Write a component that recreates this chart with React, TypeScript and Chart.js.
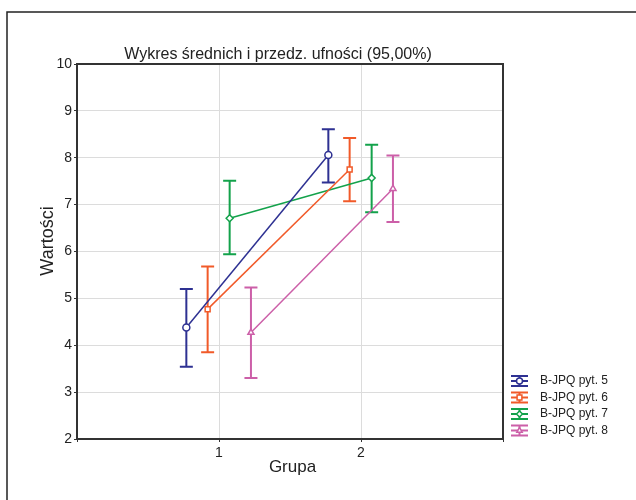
import React, { useEffect, useRef } from "react";
import { Chart, registerables } from "chart.js";

Chart.register(...registerables);

// ---- data ----
const groups = [1, 2];
const seriesNames = ["B-JPQ pyt. 5", "B-JPQ pyt. 6", "B-JPQ pyt. 7", "B-JPQ pyt. 8"];
const seriesOffsets = [-0.23, -0.08, 0.075, 0.225];

const means5 = [4.38, 8.06];
const lower5 = [3.54, 7.47];
const upper5 = [5.2, 8.61];

const means6 = [4.77, 7.75];
const lower6 = [3.85, 7.07];
const upper6 = [5.68, 8.42];

const means7 = [6.71, 7.57];
const lower7 = [5.94, 6.84];
const upper7 = [7.51, 8.28];

const means8 = [4.27, 7.34];
const lower8 = [3.3, 6.63];
const upper8 = [5.23, 8.05];

const yTicksMin = 2;
const yTicksMax = 10;
const xTickLabels = ["1", "2"];

const titleText = "Wykres średnich i przedz. ufności (95,00%)";
const xTitle = "Grupa";
const yTitle = "Wartości";

const seriesColors = ["#2e3192", "#f15a29", "#13a24b", "#cc5fa8"];
const pointStyles = ["circle", "rect", "rectRot", "triangle"];

const FONT = '"Liberation Sans", Arial, Helvetica, sans-serif';

const allMeans = [means5, means6, means7, means8];
const allLower = [lower5, lower6, lower7, lower8];
const allUpper = [upper5, upper6, upper7, upper8];

function drawMarker(ctx: CanvasRenderingContext2D, style: string, x: number, y: number, r: number) {
  ctx.beginPath();
  if (style === "circle") {
    ctx.arc(x, y, r, 0, Math.PI * 2);
  } else if (style === "rect") {
    ctx.rect(x - r * 0.8, y - r * 0.8, r * 1.6, r * 1.6);
  } else if (style === "rectRot") {
    ctx.moveTo(x, y - r);
    ctx.lineTo(x + r, y);
    ctx.lineTo(x, y + r);
    ctx.lineTo(x - r, y);
    ctx.closePath();
  } else {
    ctx.moveTo(x, y - r);
    ctx.lineTo(x + r * 0.9, y + r * 0.6);
    ctx.lineTo(x - r * 0.9, y + r * 0.6);
    ctx.closePath();
  }
  ctx.fillStyle = "#fff";
  ctx.fill();
  ctx.stroke();
}

const decorPlugin = {
  id: "decor",
  beforeDatasetsDraw(chart: any) {
    const ctx: CanvasRenderingContext2D = chart.ctx;
    const xs = chart.scales.x;
    const ys = chart.scales.y;
    const cap = 6.5;
    ctx.save();
    chart.data.datasets.forEach((ds: any) => {
      ctx.strokeStyle = ds.borderColor;
      ctx.lineWidth = 2;
      ds.data.forEach((pt: any, i: number) => {
        const px = xs.getPixelForValue(pt.x);
        const pl = ys.getPixelForValue(ds.errLow[i]);
        const ph = ys.getPixelForValue(ds.errHigh[i]);
        ctx.beginPath();
        ctx.moveTo(px, pl);
        ctx.lineTo(px, ph);
        ctx.moveTo(px - cap, pl);
        ctx.lineTo(px + cap, pl);
        ctx.moveTo(px - cap, ph);
        ctx.lineTo(px + cap, ph);
        ctx.stroke();
      });
    });
    ctx.restore();
  },
  afterDraw(chart: any) {
    const ctx: CanvasRenderingContext2D = chart.ctx;
    const a = chart.chartArea;
    ctx.save();
    // outer frame (top & left)
    ctx.strokeStyle = "#222";
    ctx.lineWidth = 1.5;
    ctx.beginPath();
    ctx.moveTo(7, 500);
    ctx.lineTo(7, 12);
    ctx.lineTo(636, 12);
    ctx.stroke();
    // plot box
    ctx.lineWidth = 2;
    ctx.strokeStyle = "#333";
    ctx.strokeRect(a.left, a.top, a.right - a.left, a.bottom - a.top);

    // titles
    ctx.fillStyle = "#222";
    ctx.font = `16px ${FONT}`;
    ctx.textAlign = "center";
    ctx.textBaseline = "alphabetic";
    ctx.fillText(titleText, 278, 59);
    ctx.font = `17px ${FONT}`;
    ctx.fillText(xTitle, 292.5, 471.5);
    ctx.save();
    ctx.translate(52.5, 241);
    ctx.rotate(-Math.PI / 2);
    ctx.font = `18px ${FONT}`;
    ctx.fillText(yTitle, 0, 0);
    ctx.restore();

    // legend
    const rowY = [381, 397.5, 414, 430.5];
    const ix0 = 511;
    const ix1 = 528;
    const icx = (ix0 + ix1) / 2;
    chart.data.datasets.forEach((ds: any, i: number) => {
      const y = rowY[i];
      ctx.strokeStyle = ds.borderColor;
      ctx.lineWidth = 2;
      ctx.beginPath();
      ctx.moveTo(ix0, y - 5);
      ctx.lineTo(ix1, y - 5);
      ctx.moveTo(ix0, y);
      ctx.lineTo(ix1, y);
      ctx.moveTo(ix0, y + 5);
      ctx.lineTo(ix1, y + 5);
      ctx.moveTo(icx, y - 5);
      ctx.lineTo(icx, y + 5);
      ctx.stroke();
      ctx.lineWidth = 1.5;
      drawMarker(ctx, pointStyles[i], icx, y, 3);
      ctx.fillStyle = "#222";
      ctx.font = `12px ${FONT}`;
      ctx.textAlign = "left";
      ctx.textBaseline = "middle";
      ctx.fillText(seriesNames[i], 540, y);
    });
    ctx.restore();
  },
};

export default function App() {
  const ref = useRef<HTMLCanvasElement | null>(null);

  useEffect(() => {
    if (!ref.current) return;
    const datasets = seriesNames.map((name, s) => ({
      label: name,
      data: groups.map((g, i) => ({ x: g + seriesOffsets[s], y: allMeans[s][i] })),
      errLow: allLower[s],
      errHigh: allUpper[s],
      showLine: true,
      borderColor: seriesColors[s],
      backgroundColor: "#ffffff",
      borderWidth: 1.5,
      pointStyle: pointStyles[s],
      pointRadius: 3.5,
      pointBorderWidth: 1.5,
      pointBackgroundColor: "#ffffff",
      pointBorderColor: seriesColors[s],
    }));

    const chart = new Chart(ref.current, {
      type: "scatter",
      data: { datasets: datasets as any },
      options: {
        animation: false,
        responsive: false,
        devicePixelRatio: 1,
        layout: { padding: { left: 20, top: 64, right: 133, bottom: 20 } },
        plugins: {
          legend: { display: false },
          tooltip: { enabled: false },
          title: { display: false },
        },
        scales: {
          x: {
            type: "linear",
            min: 0,
            max: 3,
            afterFit: (scale: any) => {
              scale.height = 41;
            },
            ticks: {
              stepSize: 1,
              color: "#222",
              font: { family: FONT, size: 14 },
              padding: 3,
              maxRotation: 0,
              callback: (v: any) => {
                const idx = groups.indexOf(Number(v));
                return idx >= 0 ? xTickLabels[idx] : "";
              },
            },
            grid: { color: "#dcdcdc", tickColor: "#333", tickLength: 3, lineWidth: 1 },
            border: { display: false },
          },
          y: {
            type: "linear",
            min: yTicksMin,
            max: yTicksMax,
            afterFit: (scale: any) => {
              scale.width = 57;
            },
            ticks: {
              stepSize: 1,
              color: "#222",
              font: { family: FONT, size: 14 },
              padding: 2,
            },
            grid: { color: "#dcdcdc", tickColor: "#333", tickLength: 3, lineWidth: 1 },
            border: { display: false },
          },
        },
      },
      plugins: [decorPlugin],
    });
    return () => chart.destroy();
  }, []);

  return (
    <div style={{ position: "absolute", left: 0, top: 0, width: 636, height: 500, background: "#fff" }}>
      <canvas ref={ref} width={636} height={500} style={{ width: 636, height: 500, display: "block" }} />
    </div>
  );
}
